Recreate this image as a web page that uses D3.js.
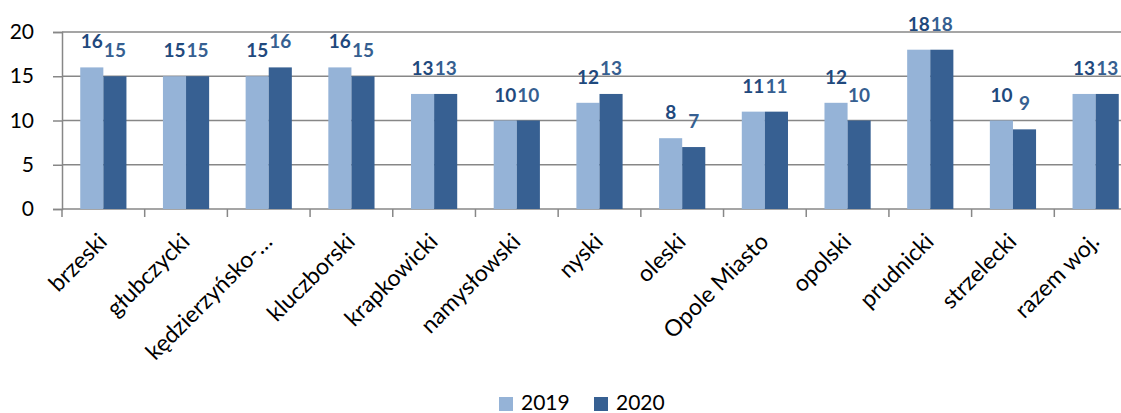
<!DOCTYPE html>
<html>
<head>
<meta charset="utf-8">
<script src="https://cdn.jsdelivr.net/npm/d3@7"></script>
<style>
  body { margin: 0; background: #fff; }
  svg { display: block; font-family: Lato, "Open Sans", sans-serif; }
</style>
</head>
<body>
<svg id="chart"></svg>
<script>
// data
const categories = ['brzeski', 'głubczycki', 'kędzierzyńsko-…', 'kluczborski', 'krapkowicki',
  'namysłowski', 'nyski', 'oleski', 'Opole Miasto', 'opolski', 'prudnicki', 'strzelecki', 'razem woj.'];
const values2019 = [16, 15, 15, 16, 13, 10, 12, 8, 11, 12, 18, 10, 13];
const values2020 = [15, 15, 16, 15, 13, 10, 13, 7, 11, 10, 18, 9, 13];
const seriesNames = ['2019', '2020'];
const yTicks = [0, 5, 10, 15, 20];

const width = 1121, height = 413;
const margin = {top: 32, left: 62, bottom: 204};
const plotRight = 1137; // plot runs past the right edge, like the original

const colors = ['#95B3D7', '#376092'];
const labelColors = ['#1F497D', '#365F91'];

const svg = d3.select('#chart')
  .attr('width', width)
  .attr('height', height);

const x = d3.scaleBand()
  .domain(categories)
  .range([margin.left, plotRight])
  .paddingInner(0)
  .paddingOuter(0);

const xInner = d3.scaleBand()
  .domain(seriesNames)
  .range([0, x.bandwidth()])
  .paddingInner(0)
  .paddingOuter(0.79);

const y = d3.scaleLinear()
  .domain([0, 20])
  .range([height - margin.bottom, margin.top]);

// gridlines
svg.append('g')
  .selectAll('line')
  .data(yTicks.filter(d => d > 0))
  .enter()
  .append('line')
    .attr('x1', margin.left)
    .attr('x2', plotRight)
    .attr('y1', d => y(d))
    .attr('y2', d => y(d))
    .attr('stroke', '#878787')
    .attr('stroke-width', 1.5);

// y axis
const yAxis = svg.append('g')
  .attr('transform', `translate(${margin.left},0)`)
  .call(d3.axisLeft(y).tickValues(yTicks).tickSize(9).tickPadding(19));
yAxis.select('.domain').attr('stroke', '#878787').attr('stroke-width', 1.5);
yAxis.selectAll('.tick line').attr('stroke', '#878787').attr('stroke-width', 1.5);
yAxis.selectAll('text')
  .attr('font-size', 21)
  .attr('fill', '#000')
  .attr('font-family', 'Lato, sans-serif');

// x axis with ticks on category boundaries
const xAxisG = svg.append('g');
xAxisG.append('line')
  .attr('x1', margin.left)
  .attr('x2', plotRight)
  .attr('y1', y(0))
  .attr('y2', y(0))
  .attr('stroke', '#878787')
  .attr('stroke-width', 1.5);
xAxisG.selectAll('.bound')
  .data(categories)
  .enter()
  .append('line')
    .attr('class', 'bound')
    .attr('x1', d => x(d))
    .attr('x2', d => x(d))
    .attr('y1', y(0))
    .attr('y2', y(0) + 8)
    .attr('stroke', '#878787')
    .attr('stroke-width', 1.5);

xAxisG.selectAll('.xlabel')
  .data(categories)
  .enter()
  .append('text')
    .attr('class', 'xlabel')
    .attr('text-anchor', 'end')
    .attr('font-size', 23)
    .attr('fill', '#000')
    .attr('transform', d => `translate(${x(d) + x.bandwidth() / 2 + 5},${y(0) + 34}) rotate(-45)`)
    .text(d => d);

// bars
const rows = categories.map((c, i) => ({cat: c, vals: [values2019[i], values2020[i]]}));

const groups = svg.append('g')
  .selectAll('g')
  .data(rows)
  .enter()
  .append('g')
    .attr('transform', d => `translate(${x(d.cat)},0)`);

groups.selectAll('rect')
  .data(d => d.vals.map((v, i) => ({key: seriesNames[i], value: v, i: i})))
  .enter()
  .append('rect')
    .attr('x', d => xInner(d.key))
    .attr('width', xInner.bandwidth())
    .attr('y', d => y(d.value))
    .attr('height', d => y(0) - y(d.value))
    .attr('fill', d => colors[d.i]);

groups.selectAll('text')
  .data(d => d.vals.map((v, i) => ({key: seriesNames[i], value: v, i: i})))
  .enter()
  .append('text')
    .attr('x', d => xInner(d.key) + xInner.bandwidth() / 2)
    .attr('y', d => y(d.value) - 19)
    .attr('text-anchor', 'middle')
    .attr('font-size', 19)
    .attr('font-weight', 'bold')
    .attr('fill', d => labelColors[d.i])
    .text(d => d.value);

// legend
const legend = svg.append('g');
const legendX = [499, 594];
seriesNames.forEach((s, i) => {
  legend.append('rect')
    .attr('x', legendX[i])
    .attr('y', 397)
    .attr('width', 14)
    .attr('height', 14)
    .attr('fill', colors[i]);
  legend.append('text')
    .attr('x', legendX[i] + 22)
    .attr('y', 410)
    .attr('font-size', 21)
    .attr('fill', '#000')
    .text(s);
});
</script>
</body>
</html>
